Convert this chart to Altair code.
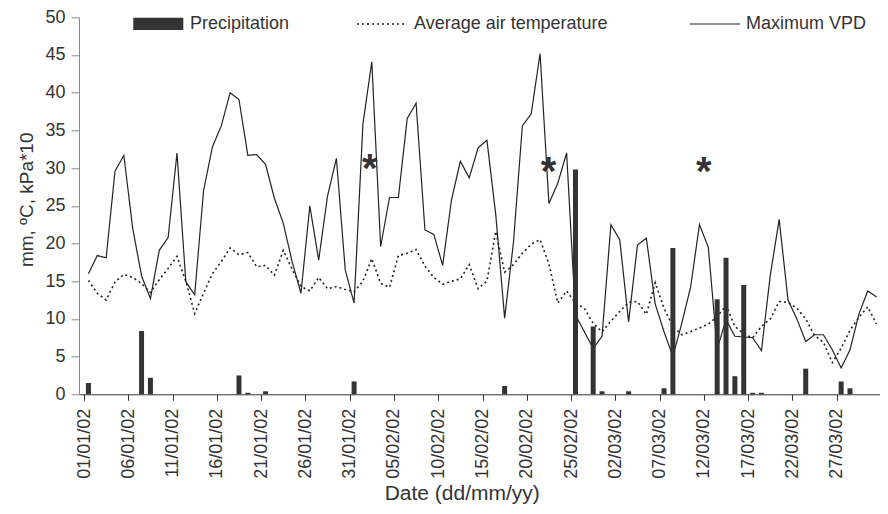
import json
import altair as alt
import pandas as pd

# ---- data (daily, 01/01/02 .. 31/03/02) ----
precip = [1.5, 0, 0, 0, 0, 0, 8.4, 2.2, 0, 0,
          0, 0, 0, 0, 0, 0, 0, 2.5, 0.2, 0,
          0.4, 0, 0, 0, 0, 0, 0, 0, 0, 0,
          1.7, 0, 0, 0, 0, 0, 0, 0, 0, 0,
          0, 0, 0, 0, 0, 0, 0, 1.1, 0, 0,
          0, 0, 0, 0, 0, 29.8, 0, 9.0, 0.4, 0,
          0, 0.4, 0, 0, 0, 0.8, 19.4, 0, 0, 0,
          0, 12.6, 18.1, 2.4, 14.5, 0.2, 0.2, 0, 0, 0,
          0, 3.4, 0, 0, 0, 1.7, 0.8, 0, 0, 0]

temp = [15.1, 13.4, 12.5, 14.9, 15.9, 15.5, 14.7, 13.5, 15.2, 16.7,
        18.3, 15.0, 10.7, 13.4, 16.0, 17.6, 19.4, 18.5, 18.8, 16.9,
        17.1, 15.8, 19.1, 16.6, 14.3, 13.7, 15.5, 14.0, 14.3, 13.9,
        13.6, 15.0, 18.0, 14.7, 14.2, 18.4, 18.7, 19.2, 17.0, 15.5,
        14.6, 15.0, 15.3, 17.2, 14.0, 15.0, 21.6, 16.2, 17.2, 18.7,
        19.9, 20.5, 17.3, 12.1, 13.7, 12.1, 11.4, 9.4, 8.3, 9.7,
        11.0, 12.2, 12.3, 10.6, 14.8, 11.4, 9.0, 7.9, 8.3, 8.8,
        9.3, 10.3, 11.8, 9.0, 8.0, 7.5, 9.0, 10.0, 12.3, 12.2,
        11.4, 10.0, 7.8, 6.9, 4.2, 6.1, 8.5, 10.2, 11.6, 9.3]

vpd = [16.0, 18.4, 18.1, 29.6, 31.7, 22.0, 15.7, 12.7, 19.1, 20.8,
       32.0, 14.9, 13.2, 27.0, 32.8, 35.6, 40.0, 39.1, 31.7, 31.8,
       30.5, 26.0, 22.7, 17.6, 13.4, 25.0, 17.8, 26.3, 31.3, 16.5,
       12.1, 35.9, 44.1, 19.6, 26.1, 26.1, 36.6, 38.6, 21.8, 21.2,
       17.1, 25.8, 30.9, 28.7, 32.7, 33.7, 23.8, 10.1, 20.2, 35.6,
       37.2, 45.2, 25.3, 28.0, 32.0, 10.5, 8.3, 6.1, 7.7, 22.5,
       20.5, 9.6, 19.8, 20.7, 12.0, 8.3, 5.0, 9.4, 14.2, 22.5,
       19.5, 6.0, 9.9, 7.7, 7.6, 7.5, 5.8, 15.8, 23.2, 12.5,
       10.0, 7.0, 7.9, 7.9, 5.9, 3.5, 5.9, 10.6, 13.7, 12.9]

tick_labels = ["01/01/02", "06/01/02", "11/01/02", "16/01/02", "21/01/02",
               "26/01/02", "31/01/02", "05/02/02", "10/02/02", "15/02/02",
               "20/02/02", "25/02/02", "02/03/02", "07/03/02", "12/03/02",
               "17/03/02", "22/03/02", "27/03/02", ""]

# asterisk annotations (day position, value)
ast_x = [32.26, 52.45, 70.0]
ast_y = [31.0, 30.6, 30.6]

legend_labels = ["Precipitation", "Average air temperature", "Maximum VPD"]

# ---- build ----
df = pd.DataFrame({
    "day": [i + 0.5 for i in range(len(vpd))],
    "precip": precip,
    "temp": temp,
    "vpd": vpd,
})
df_ast = pd.DataFrame({"day": ast_x, "val": ast_y})

TXT = "#333333"
xscale = alt.Scale(domain=[0, 90], nice=False, zero=False)
yscale = alt.Scale(domain=[0, 50], nice=False)

xaxis = alt.Axis(
    values=list(range(0, 91, 5)),
    labelExpr=f"{json.dumps(tick_labels)}[datum.value/5]",
    labelAngle=270, labelFontSize=18, labelColor=TXT, labelPadding=8,
    tickSize=6, tickColor="#333333", domainColor="#333333", grid=False,
    title="Date (dd/mm/yy)", titleFontSize=21, titleFontWeight="normal",
    titleColor=TXT, titleX=382.7, titleY=105.5, titleBaseline="alphabetic",
    titleAlign="center",
)
yaxis = alt.Axis(
    values=list(range(0, 51, 5)),
    labelFontSize=18, labelColor=TXT, labelPadding=6,
    tickSize=8, tickColor="#888888", domainColor="#888888", grid=False,
    title="mm, ºC, kPa*10", titleFontSize=19, titleFontWeight="normal",
    titleColor=TXT, titleAngle=270, titleX=-47, titleY=182,
    titleBaseline="alphabetic", titleAlign="center",
)

X = alt.X("day:Q", scale=xscale, axis=xaxis)

base = alt.Chart(df)
temp_line = base.mark_line(color="#222222", strokeWidth=1.6, strokeDash=[2, 3]).encode(
    x=X, y=alt.Y("temp:Q", scale=yscale, axis=yaxis))
vpd_line = base.mark_line(color="#222222", strokeWidth=1.2).encode(
    x=X, y=alt.Y("vpd:Q", scale=yscale, axis=yaxis))
bars = base.mark_bar(size=5, color="#333333").encode(
    x=X, y=alt.Y("precip:Q", scale=yscale, axis=yaxis))
stars = alt.Chart(df_ast).mark_text(
    text="*", fontSize=40, fontWeight="bold", color="#333333",
    baseline="alphabetic", align="center", dy=21).encode(
    x=X, y=alt.Y("val:Q", scale=yscale, axis=yaxis))

one = pd.DataFrame({"a": [0]})
ly = 6.7
leg_rect = alt.Chart(one).mark_rect(color="#333333").encode(
    x=alt.value(54.3), x2=alt.value(104.3), y=alt.value(0.5), y2=alt.value(12.7))
leg_dot = alt.Chart(one).mark_rule(color="#222222", strokeWidth=1.6, strokeDash=[2, 3]).encode(
    x=alt.value(278), x2=alt.value(328), y=alt.value(ly))
leg_solid = alt.Chart(one).mark_rule(color="#222222", strokeWidth=1.2).encode(
    x=alt.value(611), x2=alt.value(661), y=alt.value(ly))
leg_t1 = alt.Chart(one).mark_text(fontSize=18, color=TXT, align="left", baseline="middle").encode(
    x=alt.value(111), y=alt.value(ly + 0.5), text=alt.value(legend_labels[0]))
leg_t2 = alt.Chart(one).mark_text(fontSize=18, color=TXT, align="left", baseline="middle").encode(
    x=alt.value(335), y=alt.value(ly + 0.5), text=alt.value(legend_labels[1]))
leg_t3 = alt.Chart(one).mark_text(fontSize=18, color=TXT, align="left", baseline="middle").encode(
    x=alt.value(667), y=alt.value(ly + 0.5), text=alt.value(legend_labels[2]))

# total width kept at 872 px (the page's content width) so the SVG is not shrunk;
# the plot area itself keeps the reference's 807 px, its last few px run to the edge.
chart = alt.layer(
    temp_line, vpd_line, bars, stars,
    leg_rect, leg_dot, leg_solid, leg_t1, leg_t2, leg_t3,
).properties(
    width=807, height=377,
    autosize=alt.AutoSizeParams(type="none"),
    padding={"left": 71, "top": 9.3, "right": -6, "bottom": 110},
).configure(
    font="Liberation Sans",
).configure_view(stroke=None)

chart.save("out.html", embed_options={"renderer": "svg", "actions": False})
